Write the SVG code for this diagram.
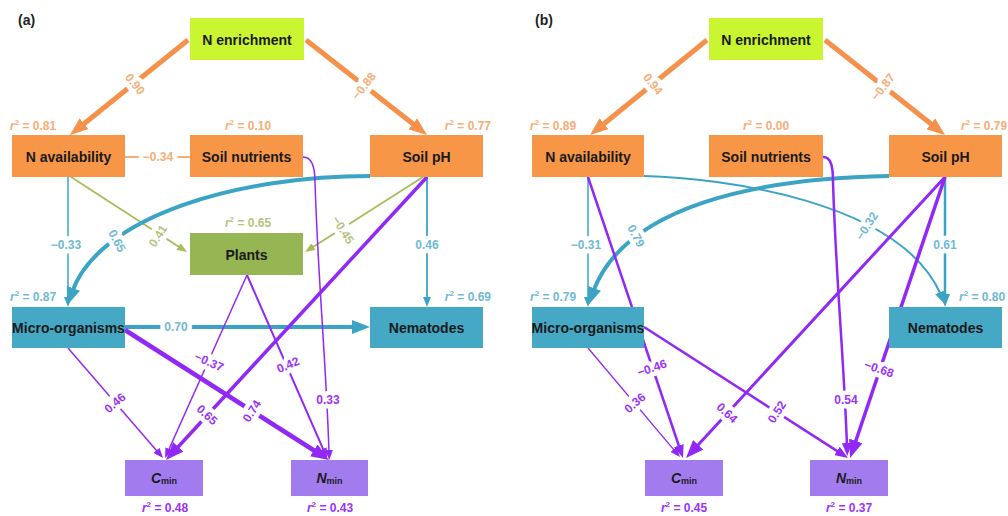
<svg xmlns="http://www.w3.org/2000/svg" width="1008" height="516" viewBox="0 0 1008 516">
<style>
text{font-family:"Liberation Sans",Arial,sans-serif;font-weight:bold}
.nt{font-size:14px;fill:#1a1a1a;text-anchor:middle;dominant-baseline:central}
.pn{font-size:14px;fill:#222}
.r2{font-size:12px}
.it{font-style:italic}
.lb{font-size:12px;text-anchor:middle;dominant-baseline:central;stroke:#fff;stroke-width:9;paint-order:stroke;stroke-linejoin:round}
.or{fill:#F79646}.lm{fill:#C9F531}.ol{fill:#96B553}.tl{fill:#45A8C4}.pu{fill:#A27CEF}
.to{fill:#F5AE78}.tt{fill:#6FBAD3}.tov{fill:#B3C47E}.tp{fill:#9A33FA}
.c{fill:none}
.so{stroke:#F5914A}.st{stroke:#3BA4C4}.sv{stroke:#A8BC5C}.sp{stroke:#9128F5}
</style>
<defs>
<marker id="ob" markerUnits="userSpaceOnUse" markerWidth="18" markerHeight="14" refX="4" refY="7" orient="auto"><path d="M0,0L18,7L0,14z" fill="#F5914A"/></marker>
<marker id="tb" markerUnits="userSpaceOnUse" markerWidth="18" markerHeight="14" refX="4" refY="7" orient="auto"><path d="M0,0L18,7L0,14z" fill="#3BA4C4"/></marker>
<marker id="tm" markerUnits="userSpaceOnUse" markerWidth="13" markerHeight="10" refX="3" refY="5" orient="auto"><path d="M0,0L13,5L0,10z" fill="#3BA4C4"/></marker>
<marker id="ts" markerUnits="userSpaceOnUse" markerWidth="10" markerHeight="8" refX="2" refY="4" orient="auto"><path d="M0,0L10,4L0,8z" fill="#3BA4C4"/></marker>
<marker id="vs" markerUnits="userSpaceOnUse" markerWidth="10" markerHeight="8" refX="2" refY="4" orient="auto"><path d="M0,0L10,4L0,8z" fill="#A8BC5C"/></marker>
<marker id="pb" markerUnits="userSpaceOnUse" markerWidth="18" markerHeight="14" refX="4" refY="7" orient="auto"><path d="M0,0L18,7L0,14z" fill="#9128F5"/></marker>
<marker id="pm" markerUnits="userSpaceOnUse" markerWidth="13" markerHeight="10" refX="3" refY="5" orient="auto"><path d="M0,0L13,5L0,10z" fill="#9128F5"/></marker>
<marker id="ps" markerUnits="userSpaceOnUse" markerWidth="10" markerHeight="8" refX="2" refY="4" orient="auto"><path d="M0,0L10,4L0,8z" fill="#9128F5"/></marker>
</defs>
<rect width="1008" height="516" fill="#fff"/>
<text class="pn" x="18" y="25">(a)</text>
<text class="pn" x="535" y="25">(b)</text>

<g id="connectors">
<!-- panel a -->
<path class="c so" stroke-width="5" d="M188,40L80.9,126.2" marker-end="url(#ob)"/>
<path class="c so" stroke-width="5" d="M306,40L416,126.3" marker-end="url(#ob)"/>
<path class="c so" stroke-width="1.5" d="M125,157H190"/>
<path class="c st" stroke-width="1.5" d="M68,177V299" marker-end="url(#ts)"/>
<path class="c st" stroke-width="1.8" d="M427,177V299" marker-end="url(#ts)"/>
<path class="c sv" stroke-width="1.8" d="M68,175L180.3,247.7" marker-end="url(#vs)"/>
<path class="c sv" stroke-width="1.8" d="M423,177L311.8,247.7" marker-end="url(#vs)"/>
<path class="c st" stroke-width="4" d="M370,176C240,176 100,215 72,292" marker-end="url(#tb)"/>
<path class="c st" stroke-width="4" d="M125,327H356" marker-end="url(#tb)"/>
<path class="c sp" stroke-width="1.5" d="M303,157C312,157 315,166 315,182C318,280 326,360 329,452" marker-end="url(#ps)"/>
<path class="c sp" stroke-width="3.5" d="M427,177L175.5,449.7" marker-end="url(#pb)"/>
<path class="c sp" stroke-width="4.5" d="M125,330L317.2,452.5" marker-end="url(#pb)"/>
<path class="c sp" stroke-width="1.5" d="M68,348L157.8,451.9" marker-end="url(#ps)"/>
<path class="c sp" stroke-width="1.5" d="M247,275L168.3,450.7" marker-end="url(#ps)"/>
<path class="c sp" stroke-width="2" d="M247,275L323.8,450.7" marker-end="url(#ps)"/>
<!-- panel b -->
<path class="c so" stroke-width="5" d="M707,40L600.9,126.2" marker-end="url(#ob)"/>
<path class="c so" stroke-width="5" d="M825,40L934,126.3" marker-end="url(#ob)"/>
<path class="c st" stroke-width="1.5" d="M588,177V299" marker-end="url(#ts)"/>
<path class="c st" stroke-width="2.5" d="M945,177V297" marker-end="url(#tm)"/>
<path class="c st" stroke-width="4" d="M889,176C760,178 625,205 593,292" marker-end="url(#tb)"/>
<path class="c st" stroke-width="2" d="M644,176C720,178 900,200 941,295" marker-end="url(#tm)"/>
<path class="c sp" stroke-width="2.5" d="M588,177L679.8,448.5" marker-end="url(#pm)"/>
<path class="c sp" stroke-width="1.3" d="M588,348L674.8,450.9" marker-end="url(#ps)"/>
<path class="c sp" stroke-width="2.5" d="M644,327L839.6,452.6" marker-end="url(#pm)"/>
<path class="c sp" stroke-width="3" d="M945,177L695.5,447.7" marker-end="url(#pb)"/>
<path class="c sp" stroke-width="2.5" d="M823,157C831,157 833,166 833,182C836,280 844,360 847,446" marker-end="url(#pm)"/>
<path class="c sp" stroke-width="3.5" d="M945,177L854.5,444.7" marker-end="url(#pb)"/>

<!-- labels a -->
<text class="lb to" transform="translate(135,84) rotate(51)">0.90</text>
<text class="lb to" transform="translate(364,86) rotate(-52)">−0.88</text>
<text class="lb to" x="158" y="157">−0.34</text>
<text class="lb tt" x="66" y="245">−0.33</text>
<text class="lb tt" x="427" y="245">0.46</text>
<text class="lb tov" transform="translate(158,236) rotate(-57)">0.41</text>
<text class="lb tov" transform="translate(343,230) rotate(58)">−0.45</text>
<text class="lb tt" transform="translate(117,241) rotate(62)">0.65</text>
<text class="lb tt" x="176" y="327">0.70</text>
<text class="lb tp" x="328" y="400">0.33</text>
<text class="lb tp" transform="translate(207,415) rotate(42.7)">0.65</text>
<text class="lb tp" transform="translate(252,411) rotate(-57.5)">0.74</text>
<text class="lb tp" transform="translate(115,403) rotate(-40.8)">0.46</text>
<text class="lb tp" transform="translate(209,362) rotate(24)">−0.37</text>
<text class="lb tp" transform="translate(288,365) rotate(-23.6)">0.42</text>
<!-- labels b -->
<text class="lb to" transform="translate(653,84) rotate(51)">0.94</text>
<text class="lb to" transform="translate(883,87) rotate(-52)">−0.87</text>
<text class="lb tt" x="586" y="245">−0.31</text>
<text class="lb tt" x="945" y="245">0.61</text>
<text class="lb tt" transform="translate(636,236) rotate(62)">0.79</text>
<text class="lb tt" transform="translate(867,226) rotate(-58)">−0.32</text>
<text class="lb tp" transform="translate(652,368) rotate(-18.7)">−0.46</text>
<text class="lb tp" transform="translate(635,403) rotate(-40.7)">0.36</text>
<text class="lb tp" transform="translate(777,412) rotate(-57.3)">0.52</text>
<text class="lb tp" transform="translate(727,413) rotate(42.7)">0.64</text>
<text class="lb tp" x="846" y="400">0.54</text>
<text class="lb tp" transform="translate(879,369) rotate(18.7)">−0.68</text>
</g>

<!-- nodes panel a -->
<g id="a-n-enrichment"><rect class="lm" x="190" y="18" width="114" height="42"/><text class="nt" x="247" y="40">N enrichment</text></g>
<g id="a-n-availability"><rect class="or" x="12" y="135" width="113" height="42"/><text class="nt" x="68.5" y="157">N availability</text><text class="r2 to" x="10" y="130"><tspan class="it">r</tspan><tspan font-size="8" dy="-5">2</tspan><tspan dy="5"> = 0.81</tspan></text></g>
<g id="a-soil-nutrients"><rect class="or" x="190" y="135" width="113" height="42"/><text class="nt" x="246.5" y="157">Soil nutrients</text><text class="r2 to" x="248" y="130" text-anchor="middle"><tspan class="it">r</tspan><tspan font-size="8" dy="-5">2</tspan><tspan dy="5"> = 0.10</tspan></text></g>
<g id="a-soil-ph"><rect class="or" x="370" y="135" width="113" height="42"/><text class="nt" x="426.5" y="157">Soil pH</text><text class="r2 to" x="491" y="130" text-anchor="end"><tspan class="it">r</tspan><tspan font-size="8" dy="-5">2</tspan><tspan dy="5"> = 0.77</tspan></text></g>
<g id="a-plants"><rect class="ol" x="190" y="233" width="113" height="42"/><text class="nt" x="246.5" y="255">Plants</text><text class="r2 tov" x="248" y="227" text-anchor="middle"><tspan class="it">r</tspan><tspan font-size="8" dy="-5">2</tspan><tspan dy="5"> = 0.65</tspan></text></g>
<g id="a-micro-organisms"><rect class="tl" x="12" y="307" width="113" height="41"/><text class="nt" x="68.5" y="328">Micro-organisms</text><text class="r2 tt" x="10" y="301"><tspan class="it">r</tspan><tspan font-size="8" dy="-5">2</tspan><tspan dy="5"> = 0.87</tspan></text></g>
<g id="a-nematodes"><rect class="tl" x="370" y="307" width="113" height="41"/><text class="nt" x="426.5" y="328">Nematodes</text><text class="r2 tt" x="491" y="301" text-anchor="end"><tspan class="it">r</tspan><tspan font-size="8" dy="-5">2</tspan><tspan dy="5"> = 0.69</tspan></text></g>
<g id="a-cmin"><rect class="pu" x="125" y="460" width="78" height="36"/><text class="nt" x="164" y="478"><tspan class="it">C</tspan><tspan font-size="9" dy="3">min</tspan></text><text class="r2 tp" x="165" y="512" text-anchor="middle"><tspan class="it">r</tspan><tspan font-size="8" dy="-5">2</tspan><tspan dy="5"> = 0.48</tspan></text></g>
<g id="a-nmin"><rect class="pu" x="291" y="460" width="77" height="36"/><text class="nt" x="329.5" y="478"><tspan class="it">N</tspan><tspan font-size="9" dy="3">min</tspan></text><text class="r2 tp" x="330" y="512" text-anchor="middle"><tspan class="it">r</tspan><tspan font-size="8" dy="-5">2</tspan><tspan dy="5"> = 0.43</tspan></text></g>

<!-- nodes panel b -->
<g id="b-n-enrichment"><rect class="lm" x="709" y="18" width="114" height="42"/><text class="nt" x="766" y="40">N enrichment</text></g>
<g id="b-n-availability"><rect class="or" x="532" y="135" width="112" height="42"/><text class="nt" x="588" y="157">N availability</text><text class="r2 to" x="530" y="130"><tspan class="it">r</tspan><tspan font-size="8" dy="-5">2</tspan><tspan dy="5"> = 0.89</tspan></text></g>
<g id="b-soil-nutrients"><rect class="or" x="709" y="135" width="114" height="42"/><text class="nt" x="766" y="157">Soil nutrients</text><text class="r2 to" x="766" y="130" text-anchor="middle"><tspan class="it">r</tspan><tspan font-size="8" dy="-5">2</tspan><tspan dy="5"> = 0.00</tspan></text></g>
<g id="b-soil-ph"><rect class="or" x="889" y="135" width="113" height="42"/><text class="nt" x="945.5" y="157">Soil pH</text><text class="r2 to" x="961" y="130"><tspan class="it">r</tspan><tspan font-size="8" dy="-5">2</tspan><tspan dy="5"> = 0.79</tspan></text></g>
<g id="b-micro-organisms"><rect class="tl" x="532" y="307" width="112" height="41"/><text class="nt" x="588" y="328">Micro-organisms</text><text class="r2 tt" x="530" y="301"><tspan class="it">r</tspan><tspan font-size="8" dy="-5">2</tspan><tspan dy="5"> = 0.79</tspan></text></g>
<g id="b-nematodes"><rect class="tl" x="889" y="307" width="113" height="41"/><text class="nt" x="945.5" y="328">Nematodes</text><text class="r2 tt" x="959" y="301"><tspan class="it">r</tspan><tspan font-size="8" dy="-5">2</tspan><tspan dy="5"> = 0.80</tspan></text></g>
<g id="b-cmin"><rect class="pu" x="645" y="460" width="78" height="36"/><text class="nt" x="684" y="478"><tspan class="it">C</tspan><tspan font-size="9" dy="3">min</tspan></text><text class="r2 tp" x="684" y="512" text-anchor="middle"><tspan class="it">r</tspan><tspan font-size="8" dy="-5">2</tspan><tspan dy="5"> = 0.45</tspan></text></g>
<g id="b-nmin"><rect class="pu" x="810" y="460" width="78" height="36"/><text class="nt" x="849" y="478"><tspan class="it">N</tspan><tspan font-size="9" dy="3">min</tspan></text><text class="r2 tp" x="849" y="512" text-anchor="middle"><tspan class="it">r</tspan><tspan font-size="8" dy="-5">2</tspan><tspan dy="5"> = 0.37</tspan></text></g>
</svg>
